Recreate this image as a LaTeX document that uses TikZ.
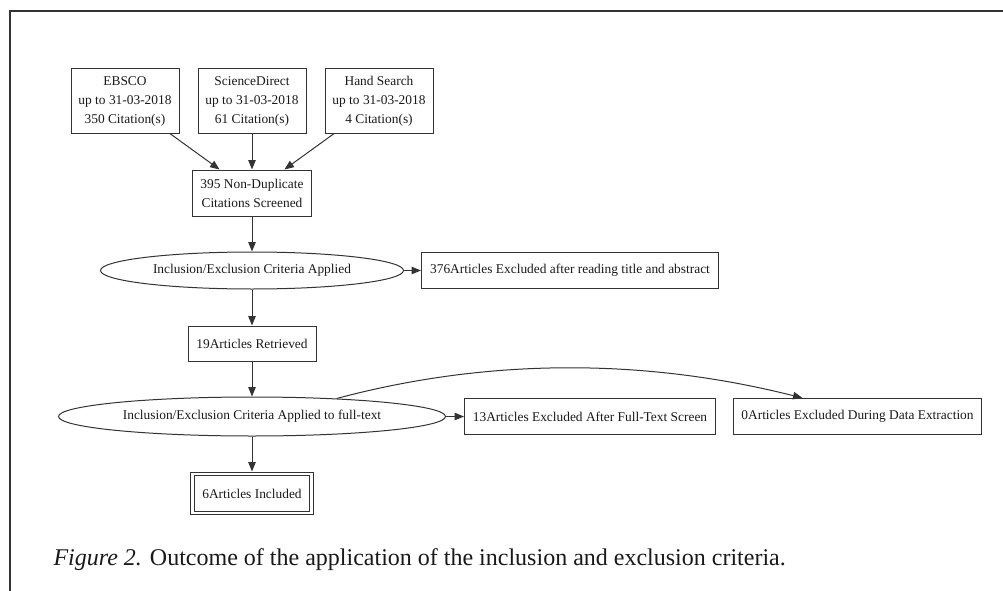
\documentclass[tikz,border=0pt]{standalone}
\usepackage{fontspec}
\setmainfont{Liberation Serif}
\usetikzlibrary{shapes.geometric, arrows.meta, positioning}

\begin{document}
\begin{tikzpicture}[
  x=1pt, y=-1pt,
  node distance=36pt,
  every node/.style={font=\fontsize{13.4}{19}\selectfont, text=black!90},
  srcbox/.style={rectangle, draw=black!80, line width=1pt, minimum width=108pt, minimum height=64pt, align=center, inner sep=2pt},
  stepbox/.style={rectangle, draw=black!80, line width=1pt, minimum height=36pt, align=center, inner sep=2pt},
  critnode/.style={ellipse, draw=black!80, line width=1pt, inner sep=0pt},
  line/.style={draw=black!80, line width=1pt, -{Triangle[length=9.5pt, width=7.5pt]}}
]
  \useasboundingbox (0,0) rectangle (1003,591);

  % frame of the page
  \draw [black!80, line width=1.2pt] (10,591) -- (10,11) -- (1003,11);

  % sources
  \node [srcbox] (sd) at (252,101) {ScienceDirect\\up to 31-03-2018\\61 Citation(s)};
  \node [srcbox, left=18pt of sd] (ebsco) {EBSCO\\up to 31-03-2018\\350 Citation(s)};
  \node [srcbox, right=18pt of sd] (hand) {Hand Search\\up to 31-03-2018\\4 Citation(s)};

  % screening column
  \node [stepbox, minimum width=119pt, minimum height=46pt, below=36pt of sd] (nondup) {395 Non-Duplicate\\Citations Screened};
  \node [critnode, minimum width=303pt, minimum height=37pt, below=35pt of nondup] (crit1) {Inclusion/Exclusion Criteria Applied};
  \node [stepbox, minimum width=297pt, right=17pt of crit1] (excl1) {376Articles Excluded after reading title and abstract};
  \node [stepbox, minimum width=128pt, minimum height=35pt, below=36pt of crit1] (retr) {19Articles Retrieved};
  \node [critnode, minimum width=387pt, minimum height=39pt, below=35pt of retr] (crit2) {Inclusion/Exclusion Criteria Applied to full-text};
  \node [stepbox, minimum width=251pt, right=18pt of crit2] (excl2) {13Articles Excluded After Full-Text Screen};
  \node [stepbox, minimum width=248pt, right=17pt of excl2] (excl3) {0Articles Excluded During Data Extraction};
  \node [stepbox, double, double distance=2.6pt, minimum width=119pt, minimum height=39pt, below=37pt of crit2] (incl) {6Articles Included};

  % caption
  \node [anchor=base west, font=\fontsize{24}{28}\selectfont] (caption) at (50,565) {\textit{Figure 2.} Outcome of the application of the inclusion and exclusion criteria.};

  \draw [line] (ebsco) -- (nondup);
  \draw [line] (sd) -- (nondup);
  \draw [line] (hand) -- (nondup);
  \draw [line] (nondup) -- (crit1);
  \draw [line] (crit1) -- (excl1);
  \draw [line] (crit1) -- (retr);
  \draw [line] (retr) -- (crit2);
  \draw [line] (crit2) -- (excl2);
  \draw [line] (crit2.12) .. controls (488,358) and (644,358) .. ([xshift=-55pt]excl3.north);
  \draw [line, shorten >=2pt] (crit2) -- (incl);
\end{tikzpicture}
\end{document}
